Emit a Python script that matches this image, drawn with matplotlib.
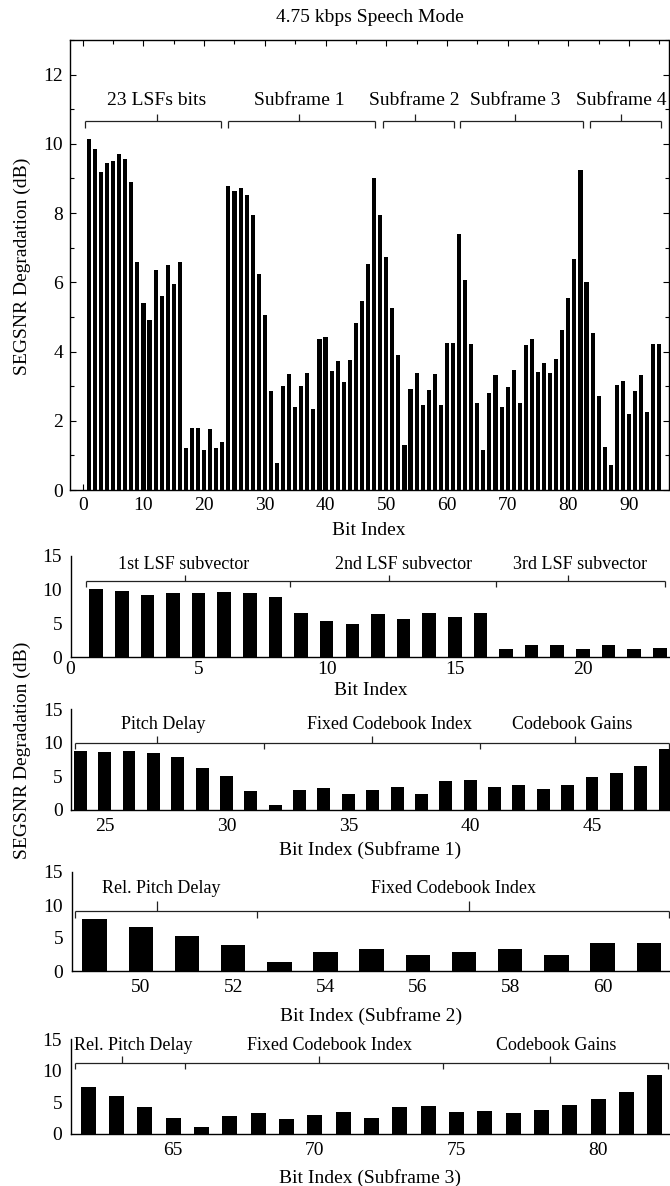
import matplotlib
matplotlib.use("Agg")
import matplotlib.pyplot as plt
from matplotlib.ticker import MultipleLocator

plt.rcParams["font.family"] = ["Liberation Serif", "DejaVu Serif"]
plt.rcParams["font.size"] = 14
plt.rcParams["axes.linewidth"] = 1.0

# SEGSNR degradation per corrupted bit, 4.75 kbps mode (95 bits per frame)
BIT_INDEX = list(range(1, 96))
DEGRADATION = [
    10.15, 9.85, 9.20, 9.45, 9.50, 9.72, 9.55, 8.90, 6.60, 5.40,
    4.90, 6.35, 5.60, 6.50, 5.95, 6.60, 1.20, 1.80, 1.80, 1.15,
    1.75, 1.22, 1.38, 8.79, 8.65, 8.73, 8.52, 7.94, 6.24, 5.05,
    2.86, 0.77, 3.00, 3.34, 2.40, 3.01, 3.38, 2.33, 4.37, 4.42,
    3.43, 3.72, 3.12, 3.77, 4.83, 5.45, 6.54, 9.00, 7.94, 6.73,
    5.25, 3.90, 1.29, 2.93, 3.37, 2.46, 2.89, 3.34, 2.46, 4.26,
    4.26, 7.40, 6.07, 4.22, 2.52, 1.16, 2.81, 3.31, 2.41, 2.97,
    3.47, 2.50, 4.19, 4.35, 3.41, 3.66, 3.37, 3.79, 4.62, 5.56,
    6.68, 9.25, 6.01, 4.53, 2.72, 1.23, 0.72, 3.02, 3.16, 2.20,
    2.85, 3.31, 2.26, 4.21, 4.21,
]

FRAME_GROUPS = ["23 LSFs bits", "Subframe 1", "Subframe 2", "Subframe 3", "Subframe 4"]

# first / last bit of each zoomed panel
PANEL_BITS = [(1, 23), (24, 48), (49, 61), (62, 82)]
PANEL_XLABELS = [
    "Bit Index",
    "Bit Index (Subframe 1)",
    "Bit Index (Subframe 2)",
    "Bit Index (Subframe 3)",
]
PANEL_XTICKS = [
    [0, 5, 10, 15, 20],
    [25, 30, 35, 40, 45],
    [50, 52, 54, 56, 58, 60],
    [65, 70, 75, 80],
]
PANEL_GROUPS = [
    ["1st LSF subvector", "2nd LSF subvector", "3rd LSF subvector"],
    ["Pitch Delay", "Fixed Codebook Index", "Codebook Gains"],
    ["Rel. Pitch Delay", "Fixed Codebook Index"],
    ["Rel. Pitch Delay", "Fixed Codebook Index", "Codebook Gains"],
]

W, H = 670, 1186


def frac(left, top, right, bottom):
    return [left / W, 1 - bottom / H, (right - left) / W, (bottom - top) / H]


def bracket(ax, edges, centers, y, drop, rise, color="#222222"):
    kw = dict(color=color, lw=0.9, clip_on=False, solid_capstyle="butt")
    ax.plot([edges[0], edges[-1]], [y, y], **kw)
    for e in edges:
        ax.plot([e, e], [y, y - drop], **kw)
    for c in centers:
        ax.plot([c, c], [y, y + rise], **kw)


fig = plt.figure(figsize=(W / 100, H / 100), dpi=100)

# full frame overview
ax = fig.add_axes(frac(70, 40, 668.5, 490))
ax.bar(BIT_INDEX, DEGRADATION, width=0.68, color="black", edgecolor="none")
ax.set_xlim(-2.1, 96.5)
ax.set_ylim(0, 13)
ax.xaxis.set_major_locator(MultipleLocator(10))
ax.xaxis.set_minor_locator(MultipleLocator(5))
ax.yaxis.set_major_locator(MultipleLocator(2))
ax.yaxis.set_minor_locator(MultipleLocator(1))
ax.tick_params(which="both", direction="in", top=True, right=True, width=0.8)
ax.tick_params(which="major", length=4, pad=5)
ax.tick_params(which="minor", length=3)
ax.set_xlabel("Bit Index", labelpad=6)

frame_spans = [(0.35, 22.85), (23.9, 48.1), (49.4, 61.1), (62.2, 82.4), (83.5, 95.3)]
frame_ticks = [12.2, 35.7, 54.7, 71.2, 88.7]
for name, (a, b), c in zip(FRAME_GROUPS, frame_spans, frame_ticks):
    bracket(ax, [a, b], [c], 10.65, 0.2, 0.22)
    ax.text(c, 11.25, name, ha="center", va="center")

fig.text(370 / W, 1 - 18 / H, "4.75 kbps Speech Mode", ha="center", va="center")
fig.text(22 / W, 1 - 266 / H, "SEGSNR Degradation (dB)", rotation=90,
         ha="center", va="center")

# zoomed panels
panel_boxes = [
    (70.5, 556, 670, 657),
    (71, 709, 670, 810),
    (71.5, 872, 670, 971),
    (70.5, 1039, 670, 1134),
]
panel_xlims = [(0, 23.4), (23.62, 48.2), (48.5, 61.46), (61.38, 82.53)]
panel_edges = [
    [0.6, 8.55, 16.6, 23.2],
    [23.8, 31.54, 40.4, 48.15],
    [48.57, 52.52, 61.44],
    [61.53, 65.42, 74.53, 82.46],
]
panel_centers = [
    [4.47, 12.45, 19.4],
    [27.16, 35.96, 44.3],
    [50.35, 57.1],
    [63.2, 70.13, 78.3],
]
panel_text_x = [
    [4.4, 13.0, 19.9],
    [27.4, 36.7, 44.2],
    [50.44, 56.78],
    [63.6, 70.5, 78.5],
]
# bracket level, drop, rise, text level
panel_levels = [
    (11.3, 0.9, 0.9, 13.7),
    (9.95, 0.9, 1.05, 12.75),
    (9.06, 1.0, 1.6, 12.5),
    (11.25, 1.0, 1.0, 14.0),
]
tick_pads = [3, 6, 6, 6]
label_pads = [3, 4, 8, 7]

for i, (first, last) in enumerate(PANEL_BITS):
    pax = fig.add_axes(frac(*panel_boxes[i]))
    bits = BIT_INDEX[first - 1:last]
    vals = DEGRADATION[first - 1:last]
    pax.bar(bits, vals, width=0.53, color="black", edgecolor="none")
    pax.set_xlim(*panel_xlims[i])
    pax.set_ylim(0, 15)
    pax.set_yticks([0, 5, 10, 15])
    pax.set_xticks(PANEL_XTICKS[i])
    pax.spines["top"].set_visible(False)
    pax.spines["right"].set_visible(False)
    pax.tick_params(length=0)
    pax.tick_params(axis="y", pad=6)
    pax.tick_params(axis="x", pad=tick_pads[i])
    pax.set_xlabel(PANEL_XLABELS[i], labelpad=label_pads[i])

    y, drop, rise, ty = panel_levels[i]
    bracket(pax, panel_edges[i], panel_centers[i], y, drop, rise)
    for name, tx in zip(PANEL_GROUPS[i], panel_text_x[i]):
        pax.text(tx, ty, name, ha="center", va="center", fontsize=13)

fig.text(22 / W, 1 - 750 / H, "SEGSNR Degradation (dB)", rotation=90,
         ha="center", va="center")

fig.savefig("out.png", dpi=100)
plt.close(fig)
